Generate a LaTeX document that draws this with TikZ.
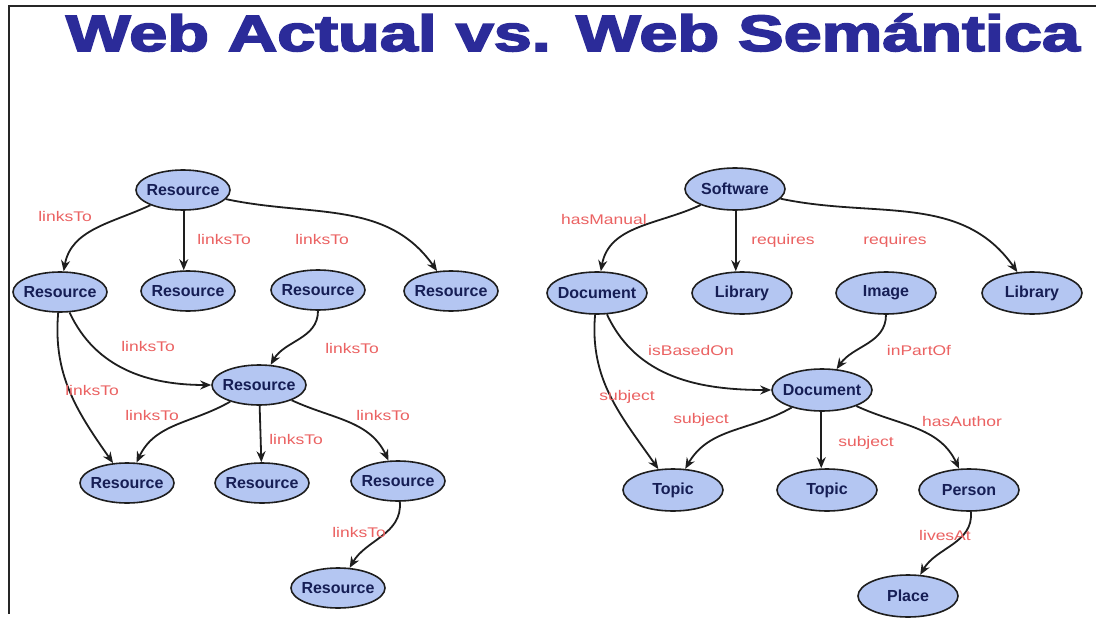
\documentclass[tikz,border=0pt]{standalone}
\usepackage{fontspec}
\setmainfont{Liberation Sans}
\newfontfamily\lblfont[FakeStretch=1.25]{Liberation Sans}
\newfontfamily\titlefont[BoldFeatures={FakeBold=3}]{Liberation Sans}
\usetikzlibrary{arrows.meta,shapes.geometric}
\definecolor{titleblue}{RGB}{43,43,153}
\definecolor{nodefill}{RGB}{180,198,242}
\definecolor{nodetext}{RGB}{22,30,85}
\definecolor{lblred}{RGB}{235,98,98}
\definecolor{edgecol}{RGB}{30,30,30}
\tikzset{
  res/.style={ellipse, draw=edgecol, line width=1.6pt, fill=nodefill, text=nodetext,
    font=\bfseries\fontsize{16}{16}\selectfont, minimum width=94pt, minimum height=40pt,
    inner xsep=-6pt, inner ysep=0pt},
  sem/.style={res, minimum width=100pt, minimum height=42pt},
  lbl/.style={text=lblred, font=\lblfont\fontsize{14}{14}\selectfont, inner sep=0pt},
  edge/.style={draw=edgecol, line width=1.8pt, -{Stealth[length=11pt,width=9pt]}}
}
\begin{document}
\begin{tikzpicture}[x=1pt,y=1pt]
\useasboundingbox (0,0) rectangle (1096,-621);
\fill[white] (0,0) rectangle (1096,-621);
% title
\node[anchor=base, text=titleblue, inner sep=0pt] (title) at (573,-51)
  {\scalebox{1.34}[1]{\titlefont\bfseries\fontsize{51}{51}\selectfont Web Actual vs. Web Semántica}};
% frame
\draw[line width=2pt, black!85] (1096,-6) -- (8.5,-6) -- (8.5,-614);

% left graph
\node[res] (A) at (183,-190) {Resource};
\node[res] (B) at (60,-292) {Resource};
\node[res] (C) at (188,-291) {Resource};
\node[res] (D) at (318,-290) {Resource};
\node[res] (E) at (451,-291) {Resource};
\node[res] (F) at (259,-385) {Resource};
\node[res] (G) at (127,-483) {Resource};
\node[res] (H) at (262,-483) {Resource};
\node[res] (I) at (398,-481) {Resource};
\node[res] (J) at (338,-588) {Resource};

\draw[edge] (A) to[out=-155,in=80] (B);
\draw[edge] (A.-88) -- (A.-88 |- C.north);
\draw[edge] (A) to[out=-12,in=125] (E);
\draw[edge] (B) to[out=-65,in=180] (F);
\draw[edge] (B) to[out=-95,in=125] (G);
\draw[edge] (D) to[out=-90,in=60] (F);
\draw[edge] (F) to[out=-150,in=65] (G);
\draw[edge] (F) -- (H);
\draw[edge] (F) to[out=-25,in=115] (I);
\draw[edge] (I) to[out=-85,in=60] (J);

\node[lbl] (l1) at (65,-216) {linksTo};
\node[lbl] (l2) at (224,-239) {linksTo};
\node[lbl] (l3) at (322,-239) {linksTo};
\node[lbl] (l4) at (148,-346) {linksTo};
\node[lbl] (l5) at (352,-348) {linksTo};
\node[lbl] (l6) at (92,-390) {linksTo};
\node[lbl] (l7) at (152,-415) {linksTo};
\node[lbl] (l8) at (296,-439) {linksTo};
\node[lbl] (l9) at (383,-415) {linksTo};
\node[lbl] (l10) at (359,-532) {linksTo};

% right graph
\node[sem] (S) at (735,-189) {Software};
\node[sem] (D1) at (597,-293) {Document};
\node[sem] (L1) at (742,-293) {Library};
\node[sem] (Im) at (886,-293) {Image};
\node[sem] (L2) at (1032,-293) {Library};
\node[sem] (D2) at (822,-390) {Document};
\node[sem] (T1) at (673,-490) {Topic};
\node[sem] (T2) at (827,-490) {Topic};
\node[sem] (P) at (969,-490) {Person};
\node[sem] (Pl) at (908,-596) {Place};

\draw[edge] (S) to[out=-155,in=80] (D1);
\draw[edge] (S.-88) -- (S.-88 |- L1.north);
\draw[edge] (S) to[out=-12,in=125] (L2);
\draw[edge] (D1) to[out=-65,in=180] (D2);
\draw[edge] (D1) to[out=-95,in=125] (T1);
\draw[edge] (Im) to[out=-90,in=55] (D2);
\draw[edge] (D2) to[out=-150,in=60] (T1);
\draw[edge] (D2.-92) -- (D2.-92 |- T2.north);
\draw[edge] (D2) to[out=-25,in=115] (P);
\draw[edge] (P) to[out=-85,in=60] (Pl);

\node[lbl] (m1) at (604,-219) {hasManual};
\node[lbl] (m2) at (783,-241) {requires};
\node[lbl] (m3) at (895,-241) {requires};
\node[lbl] (m4) at (691,-350) {isBasedOn};
\node[lbl] (m5) at (919,-350) {inPartOf};
\node[lbl] (m6) at (627,-397) {subject};
\node[lbl] (m7) at (701,-420) {subject};
\node[lbl] (m8) at (866,-443) {subject};
\node[lbl] (m9) at (962,-421) {hasAuthor};
\node[lbl] (m10) at (945,-535) {livesAt};
\end{tikzpicture}
\end{document}
